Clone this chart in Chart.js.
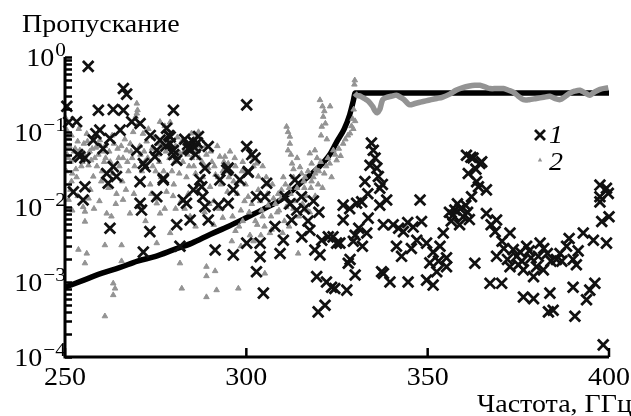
<!DOCTYPE html>
<html>
<head>
<meta charset="utf-8">
<script src="https://cdn.jsdelivr.net/npm/chart.js@4.4.0/dist/chart.umd.min.js"></script>
<style>
	html, body { margin: 0; padding: 0; background: #fff; }
	#wrap { position: relative; width: 631px; height: 416px; }
</style>
</head>
<body>
<div id="wrap"><canvas id="plot" width="631" height="416"></canvas></div>
<script>
// series 1 : crosses (frequency GHz, transmission)
const s1Freq = [
	256.4, 266.1, 267.0, 250.5, 259.2, 263.3, 266.1, 279.9, 253.2, 251.0,
	259.6, 265.2, 270.7, 268.4, 278.0, 262.4, 257.8, 276.2, 279.0, 279.9,
	254.1, 255.5, 269.8, 275.3, 280.8, 263.3, 261.5, 264.2, 261.9, 270.7,
	272.1, 277.1, 255.5, 252.3, 255.0, 270.7, 275.3, 282.6, 285.4, 284.5,
	283.8, 286.0, 285.2, 271.6, 274.8, 277.1, 277.8, 278.6, 273.5, 300.1,
	300.1, 302.4, 300.5, 298.2, 305.6, 302.8, 294.6, 292.7, 289.5, 287.2,
	288.0, 283.5, 286.8, 288.6, 295.0, 300.5, 296.4, 305.1, 295.0, 292.3,
	313.4, 315.2, 310.7, 287.7, 288.6, 289.5, 291.4, 296.4, 303.8, 303.8,
	302.8, 304.7, 309.3, 310.2, 300.1, 307.9, 312.5, 313.9, 315.3, 317.5,
	318.9, 320.3, 320.8, 322.6, 319.4, 322.1, 323.5, 321.7, 319.8, 262.4,
	271.6, 271.1, 273.4, 280.8, 284.5, 281.7, 334.5, 335.0, 334.1, 336.0,
	332.7, 336.4, 336.8, 338.7, 326.7, 330.4, 331.8, 336.8, 347.9, 360.7,
	361.9, 364.4, 361.2, 363.5, 366.2, 364.9, 364.0, 362.1, 397.5, 399.3,
	397.5, 399.8, 397.5, 326.7, 333.6, 323.9, 325.8, 329.5, 333.2, 328.1,
	330.0, 324.4, 327.7, 337.8, 340.5, 343.3, 346.0, 348.3, 341.4, 342.8,
	337.8, 339.6, 344.6, 349.7, 351.5, 349.7, 353.4, 354.3, 350.6, 352.5,
	355.2, 355.2, 357.5, 359.8, 358.2, 360.5, 356.5, 358.8, 361.0, 363.0,
	367.2, 370.4, 366.2, 369.0, 368.6, 372.7, 369.0, 372.7, 376.4, 379.2,
	381.0, 377.3, 381.9, 383.7, 376.4, 379.2, 383.3, 384.6, 390.6, 388.3,
	390.1, 392.9, 390.1, 393.8, 394.7, 396.1, 395.7, 399.3, 398.0, 400.0,
	398.4, 386.5, 385.5, 373.6, 374.5, 380.0, 324.9, 328.6, 337.3, 367.5,
	370.5, 375.5, 378.5, 383.0, 387.0, 391.5, 345.5, 347.0, 312.0, 316.0,
	318.5, 320.0, 317.0, 284.0, 285.8, 283.0, 286.5, 279.0, 280.0, 301.5,
	258.5, 260.5, 253.5, 335.5, 337.5, 333.5, 359.0, 357.0, 361.5, 356.0,
	362.5, 363.3, 342.0, 344.5, 371.0, 376.0, 378.0, 382.0, 380.5, 384.0,
	375.0, 372.0, 389.0, 391.0, 351.5, 353.0, 331.0, 332.0, 330.0, 328.5
];
const s1Trans = [
	0.75, 0.38, 0.32, 0.22, 0.195, 0.2, 0.195, 0.195, 0.137, 0.135,
	0.106, 0.106, 0.13, 0.137, 0.112, 0.082, 0.078, 0.078, 0.086, 0.057,
	0.047, 0.045, 0.057, 0.057, 0.042, 0.0345, 0.028, 0.0255, 0.0207, 0.0218,
	0.0345, 0.024, 0.0186, 0.0159, 0.0124, 0.0112, 0.0137, 0.0124, 0.0169, 0.057,
	0.068, 0.05, 0.075, 0.038, 0.047, 0.023, 0.065, 0.09, 0.09, 0.23,
	0.064, 0.045, 0.029, 0.023, 0.0207, 0.0137, 0.031, 0.023, 0.064, 0.023,
	0.0137, 0.0112, 0.087, 0.033, 0.033, 0.0296, 0.0169, 0.0137, 0.0112, 0.0106,
	0.023, 0.0137, 0.0137, 0.0186, 0.0101, 0.0067, 0.00267, 0.0023, 0.0033, 0.00218,
	0.00137, 0.00071, 0.0024, 0.0036, 0.0033, 0.0055, 0.0067, 0.0091, 0.004, 0.0049,
	0.00267, 0.0023, 0.0036, 0.004, 0.00118, 0.001, 0.00085, 0.00049, 0.0004, 0.0052,
	0.0025, 0.0091, 0.0047, 0.0058, 0.0067, 0.003, 0.071, 0.057, 0.036, 0.033,
	0.0218, 0.0255, 0.0178, 0.0124, 0.0106, 0.0112, 0.0117, 0.0106, 0.0124, 0.049,
	0.046, 0.038, 0.028, 0.0218, 0.0169, 0.04, 0.0186, 0.0137, 0.0196, 0.0178,
	0.0137, 0.0152, 0.0117, 0.0067, 0.0071, 0.004, 0.0033, 0.0035, 0.0045, 0.00178,
	0.00124, 0.00082, 0.00078, 0.0058, 0.0058, 0.0047, 0.0054, 0.0064, 0.003, 0.0022,
	0.0013, 0.001, 0.001, 0.00106, 0.00091, 0.0033, 0.003, 0.0045, 0.0018, 0.00137,
	0.0016, 0.0021, 0.0091, 0.0074, 0.011, 0.0105, 0.0065, 0.0058, 0.0085, 0.00178,
	0.00096, 0.00096, 0.0082, 0.0067, 0.0047, 0.0045, 0.0022, 0.0016, 0.00145, 0.00118,
	0.0033, 0.003, 0.00145, 0.00071, 0.00063, 0.0006, 0.0004, 0.00042, 0.00035, 0.003,
	0.002, 0.0045, 0.00085, 0.00058, 0.00078, 0.00096, 0.0036, 0.0033, 0.0064, 0.0074,
	0.000145, 0.0024, 0.002, 0.0027, 0.0022, 0.0016, 0.0033, 0.002, 0.00137, 0.0058,
	0.0035, 0.0025, 0.0021, 0.0024, 0.0019, 0.0026, 0.0028, 0.0036, 0.011, 0.0095,
	0.012, 0.0085, 0.0065, 0.06, 0.062, 0.08, 0.072, 0.07, 0.05, 0.05,
	0.095, 0.06, 0.05, 0.045, 0.02, 0.015, 0.0095, 0.0078, 0.0068, 0.0085,
	0.045, 0.032, 0.0052, 0.0062, 0.0028, 0.0019, 0.0026, 0.0028, 0.0022, 0.0019,
	0.0017, 0.002, 0.0038, 0.0017, 0.0025, 0.0019, 0.0052, 0.003, 0.0042, 0.0095
];

// series 2 : grey triangles, scattered part
const s2Freq = [
	250.5, 250.8, 251.2, 250.6, 251.5, 252.3, 253.0, 252.0, 254.1, 253.5,
	255.5, 256.5, 257.8, 258.5, 259.6, 260.5, 261.2, 263.2, 264.2, 262.0,
	260.0, 257.8, 255.0, 256.5, 258.0, 255.5, 255.5, 261.5, 264.0, 266.0,
	267.9, 269.0, 267.0, 266.0, 268.0, 269.8, 270.0, 269.5, 270.3, 269.8,
	271.5, 272.5, 274.0, 276.2, 277.5, 279.0, 276.0, 275.0, 273.5, 275.3,
	276.2, 279.0, 278.0, 280.0, 281.7, 282.5, 283.5, 284.0, 284.9, 285.5,
	286.5, 287.0, 288.5, 290.0, 291.0, 292.7, 293.5, 294.1, 295.0, 296.5,
	297.5, 298.5, 299.5, 301.0, 302.0, 302.8, 303.3, 303.3, 300.5, 299.0,
	297.0, 296.0, 298.5, 301.0, 303.0, 304.5, 306.0, 307.5, 309.7, 309.0,
	310.5, 311.1, 311.5, 312.0, 311.5, 312.6, 312.0, 313.0, 314.8, 315.2,
	317.5, 318.9, 318.0, 319.5, 320.3, 321.0, 321.2, 320.8, 321.5, 323.1,
	316.0, 318.0, 320.0, 322.0, 324.0, 324.9, 326.7, 328.6, 329.5, 329.9,
	329.8, 314.3, 305.1, 297.8, 289.0, 289.0, 291.4, 291.8, 289.0, 253.7,
	256.0, 255.5, 261.0, 265.6, 265.6, 263.3, 263.8, 263.3, 261.0, 275.3,
	281.7, 282.2, 284.5, 286.0, 288.5, 291.0, 293.5, 306.5, 313.0, 315.5,
	317.5, 319.0, 321.0, 323.5, 251.0, 252.0, 280.5, 282.0,
	250.3, 250.4, 251.8, 252.8, 253.8, 254.5, 255.2, 256.0, 256.8, 257.2,
	258.8, 259.2, 260.2, 261.0, 262.5, 263.0, 264.5, 265.0, 265.8, 266.5,
	267.5, 268.5, 268.8, 270.8, 271.2, 272.0, 273.0, 273.8, 274.5, 275.5,
	276.8, 277.2, 278.2, 278.8, 279.5, 280.5, 281.0, 281.5, 282.8, 283.2,
	284.2, 285.0, 286.0, 286.8, 287.5, 288.0, 289.0, 289.5, 290.5, 291.5,
	292.0, 293.0, 294.5, 295.5, 296.0, 297.0, 298.0, 299.0, 300.0,
	251.5, 253.5, 257.0, 259.5, 262.8, 266.8, 270.5, 272.2, 274.8, 277.5,
	279.8, 283.0, 286.5, 289.8, 292.5, 294.8, 296.2, 298.0,
	300.8, 301.5, 302.5, 303.8, 304.2, 305.0, 305.8, 306.8, 307.2, 308.0,
	308.5, 309.5, 310.0, 310.8, 311.0, 312.2, 313.5, 314.0, 314.5, 315.8,
	316.5, 317.0, 317.8, 318.5, 319.2, 319.8, 320.5, 321.5, 322.5, 323.0,
	324.5, 325.5, 326.0, 327.3, 328.0, 329.0, 330.0, 329.3, 329.6, 307.0,
	304.0, 302.0, 311.8, 316.8, 313.0, 314.0, 312.3, 320.6, 321.8, 322.2,
	250.2, 250.9, 251.8, 252.5, 253.2, 254.8, 256.2, 257.5, 258.2, 259.8,
	260.8, 262.2, 263.5, 264.8, 265.5, 267.2, 268.2, 269.2, 270.6, 271.8,
	272.8, 274.2, 275.8, 276.5, 277.8, 279.2, 280.2, 281.2, 282.2, 283.8,
	285.5, 286.2, 287.8, 288.8, 290.2, 291.2, 292.2, 293.8, 295.2, 296.8,
	298.8, 299.8, 304.5, 305.5, 306.2, 308.8, 310.2, 311.8, 316.2, 319.0
];
const s2Trans = [
	0.106, 0.085, 0.065, 0.05, 0.04, 0.042, 0.032, 0.028, 0.057, 0.075,
	0.048, 0.036, 0.078, 0.062, 0.078, 0.055, 0.045, 0.028, 0.015, 0.018,
	0.022, 0.0255, 0.01, 0.013, 0.0095, 0.0087, 0.0064, 0.0082, 0.011, 0.0125,
	0.0082, 0.015, 0.057, 0.045, 0.07, 0.24, 0.196, 0.16, 0.13, 0.177,
	0.095, 0.075, 0.06, 0.137, 0.12, 0.135, 0.04, 0.03, 0.02, 0.0112,
	0.0082, 0.0045, 0.016, 0.02, 0.052, 0.04, 0.025, 0.015, 0.096, 0.08,
	0.065, 0.045, 0.035, 0.0186, 0.012, 0.047, 0.03, 0.047, 0.038, 0.022,
	0.015, 0.009, 0.012, 0.047, 0.035, 0.038, 0.0255, 0.0169, 0.0137, 0.0065,
	0.0048, 0.0035, 0.003, 0.0042, 0.0058, 0.0075, 0.0105, 0.013, 0.0169, 0.009,
	0.0065, 0.118, 0.1, 0.087, 0.057, 0.038, 0.07, 0.025, 0.034, 0.028,
	0.052, 0.057, 0.038, 0.045, 0.267, 0.22, 0.16, 0.118, 0.19, 0.22,
	0.018, 0.022, 0.03, 0.035, 0.057, 0.042, 0.07, 0.096, 0.11, 0.49,
	0.43, 0.0024, 0.0013, 0.00082, 0.0016, 0.0012, 0.0014, 0.00078, 0.00063, 0.0027,
	0.0024, 0.00178, 0.0031, 0.0031, 0.0019, 0.00096, 0.00082, 0.00067, 0.00035, 0.0033,
	0.00178, 0.00082, 0.0075, 0.0055, 0.0085, 0.0058, 0.0072, 0.0045, 0.0095, 0.011,
	0.0085, 0.014, 0.018, 0.025, 0.0125, 0.009, 0.0095, 0.012,
	0.15, 0.03, 0.022, 0.06, 0.11, 0.035, 0.07, 0.095, 0.055, 0.042,
	0.035, 0.05, 0.03, 0.065, 0.04, 0.09, 0.06, 0.035, 0.022, 0.08,
	0.03, 0.045, 0.1, 0.05, 0.03, 0.04, 0.11, 0.015, 0.085, 0.05,
	0.065, 0.03, 0.1, 0.045, 0.03, 0.065, 0.085, 0.028, 0.055, 0.07,
	0.035, 0.045, 0.028, 0.1, 0.06, 0.025, 0.05, 0.033, 0.04, 0.027,
	0.065, 0.02, 0.03, 0.055, 0.028, 0.035, 0.022, 0.04, 0.03,
	0.017, 0.014, 0.017, 0.012, 0.0075, 0.017, 0.01, 0.0065, 0.013, 0.0095,
	0.014, 0.0095, 0.0165, 0.011, 0.0095, 0.016, 0.0075, 0.0055,
	0.0085, 0.011, 0.0065, 0.012, 0.009, 0.0055, 0.015, 0.0075, 0.02, 0.011,
	0.0085, 0.013, 0.0045, 0.02, 0.01, 0.015, 0.012, 0.018, 0.0075, 0.022,
	0.014, 0.03, 0.018, 0.025, 0.032, 0.02, 0.04, 0.028, 0.045, 0.038,
	0.05, 0.06, 0.048, 0.08, 0.09, 0.12, 0.14, 0.15, 0.2, 0.005,
	0.0042, 0.0035, 0.0055, 0.009, 0.032, 0.045, 0.05, 0.09, 0.13, 0.08,
	0.07, 0.045, 0.09, 0.055, 0.025, 0.04, 0.075, 0.06, 0.045, 0.065,
	0.04, 0.055, 0.07, 0.045, 0.065, 0.04, 0.055, 0.035, 0.065, 0.055,
	0.045, 0.035, 0.07, 0.025, 0.055, 0.06, 0.04, 0.045, 0.075, 0.05,
	0.035, 0.055, 0.04, 0.065, 0.055, 0.035, 0.025, 0.04, 0.025, 0.045,
	0.03, 0.02, 0.035, 0.025, 0.02, 0.015, 0.025, 0.018, 0.025, 0.028
];

// series 2 above the cut-off: points so dense they form a band
const bandFreq = [
	329.9, 330.4, 331.5, 332.5, 333.6, 334.8, 335.5, 336.0, 336.8, 337.6,
	338.7, 340.0, 341.4, 342.5, 343.5, 344.5, 345.1, 346.5, 348.0, 349.5,
	351.0, 352.5, 354.0, 356.1, 357.8, 359.7, 361.5, 363.0, 364.4, 365.8,
	367.2, 369.0, 370.9, 372.3, 373.6, 375.0, 376.4, 378.0, 380.0, 382.0,
	383.7, 385.0, 386.5, 388.0, 389.2, 390.5, 392.0, 393.5, 394.7, 396.0,
	397.5, 399.8
];
const bandTrans = [
	0.33, 0.31, 0.3, 0.28, 0.26, 0.22, 0.19, 0.18, 0.2, 0.27,
	0.29, 0.3, 0.31, 0.29, 0.27, 0.24, 0.23, 0.24, 0.25, 0.26,
	0.27, 0.28, 0.29, 0.32, 0.36, 0.39, 0.41, 0.42, 0.42, 0.4,
	0.38, 0.38, 0.38, 0.36, 0.34, 0.3, 0.27, 0.27, 0.28, 0.29,
	0.3, 0.28, 0.27, 0.3, 0.33, 0.35, 0.36, 0.33, 0.31, 0.34,
	0.37, 0.39
];

// calculated curve
const curveFreq = [250, 255, 260, 265, 270, 275, 280, 285, 290, 295, 300, 305, 310, 315, 320, 323, 325, 327, 328.5, 329.5, 330, 400];
const curveTrans = [0.00085, 0.00105, 0.0013, 0.00155, 0.0019, 0.0022, 0.0027, 0.0033, 0.0043, 0.0055, 0.0072, 0.0095, 0.013, 0.021, 0.034, 0.05, 0.075, 0.11, 0.17, 0.26, 0.33, 0.33];

const xTicks = [250, 300, 350, 400];
const yDecades = [0, -1, -2, -3, -4];
const legendLabels = ['1', '2'];

const GREY = '#939393';
const SERIF = '"Liberation Serif", "DejaVu Serif", serif';
const STRETCH = 1.12;   // the scan is a bit wider than tall

function pairs(xs, ys){
	return xs.map((x, i) => ({x: x, y: ys[i]}))
}

// text drawn slightly stretched to match the scan
function wideText(ctx, txt, x, y, align){
	const w = ctx.measureText(txt).width * STRETCH
	let x0 = x
	if (align == 'center') x0 = x - w / 2
	else if (align == 'right') x0 = x - w
	ctx.save()
	ctx.translate(x0, y)
	ctx.scale(STRETCH, 1)
	ctx.textAlign = 'left'
	ctx.fillText(txt, 0, 0)
	ctx.restore()
	return w
}

// axes with inward ticks, labels with superscripts, legend
const axesPlugin = {
	id: 'axesPlugin',
	afterDraw(chart){
		const ctx = chart.ctx
		const xs = chart.scales.x
		const ys = chart.scales.y
		const a = chart.chartArea
		ctx.save()
		ctx.strokeStyle = '#000'
		ctx.fillStyle = '#000'
		ctx.lineCap = 'butt'
		ctx.textBaseline = 'alphabetic'

		// y minor/major ticks
		ctx.lineWidth = 2.5
		for (let d = -4; d <= 0; d++){
			for (let k = 1; k <= 9; k++){
				const v = k * Math.pow(10, d)
				if (v > 1) break
				const py = Math.round(ys.getPixelForValue(v)) + 0.5
				ctx.beginPath()
				ctx.moveTo(a.left, py)
				ctx.lineTo(a.left + 7, py)
				ctx.stroke()
			}
		}
		// x ticks
		xTicks.forEach(t => {
			const px = xs.getPixelForValue(t)
			ctx.beginPath()
			ctx.moveTo(px, a.bottom)
			ctx.lineTo(px, a.bottom - 9)
			ctx.stroke()
		})
		// axis lines
		ctx.lineWidth = 3
		ctx.beginPath()
		ctx.moveTo(a.left, a.top)
		ctx.lineTo(a.left, a.bottom)
		ctx.lineTo(a.right, a.bottom)
		ctx.stroke()

		// x labels
		ctx.font = '25px ' + SERIF
		xTicks.forEach(t => {
			wideText(ctx, String(t), xs.getPixelForValue(t), a.bottom + 28, 'center')
		})

		// y labels 10^n
		yDecades.forEach(d => {
			const py = ys.getPixelForValue(Math.pow(10, d))
			const ex = d === 0 ? '0' : '\u2212' + (-d)
			ctx.font = '19px ' + SERIF
			const we = wideText(ctx, ex, 66, py - 1, 'right')
			ctx.font = '25px ' + SERIF
			wideText(ctx, '10', 66 - we - 1, py + 9, 'right')
		})

		// axis titles
		ctx.font = '25px ' + SERIF
		wideText(ctx, 'Пропускание', 22, 32, 'left')
		wideText(ctx, 'Частота, ГГц', 477, 412, 'left')

		// legend
		const lx = a.left + 475
		const ly1 = a.top + 78
		const ly2 = a.top + 103
		ctx.lineWidth = 2.8
		ctx.strokeStyle = '#111'
		ctx.beginPath()
		ctx.moveTo(lx - 5, ly1 - 5); ctx.lineTo(lx + 5, ly1 + 5)
		ctx.moveTo(lx + 5, ly1 - 5); ctx.lineTo(lx - 5, ly1 + 5)
		ctx.stroke()
		ctx.fillStyle = GREY
		ctx.beginPath()
		ctx.moveTo(lx, ly2 - 2.5); ctx.lineTo(lx + 2.2, ly2 + 1.5); ctx.lineTo(lx - 2.2, ly2 + 1.5)
		ctx.closePath()
		ctx.fill()
		ctx.fillStyle = '#000'
		ctx.font = 'italic 25px ' + SERIF
		wideText(ctx, legendLabels[0], lx + 9, ly1 + 8, 'left')
		wideText(ctx, legendLabels[1], lx + 9, ly2 + 10, 'left')
		ctx.restore()
	}
}

new Chart(document.getElementById('plot'), {
	type: 'scatter',
	data: {
		datasets: [{
			label: legendLabels[0],
			data: pairs(s1Freq, s1Trans),
			pointStyle: 'crossRot',
			pointRadius: 7.5,
			borderWidth: 2.8,
			borderColor: '#111',
			backgroundColor: '#111',
			clip: 8,
			order: 1
		}, {
			label: legendLabels[1],
			data: pairs(s2Freq, s2Trans),
			pointStyle: 'triangle',
			pointRadius: 3.2,
			borderWidth: 1,
			borderColor: GREY,
			backgroundColor: GREY,
			order: 2
		}, {
			label: 'band',
			type: 'line',
			data: pairs(bandFreq, bandTrans),
			showLine: true,
			borderColor: GREY,
			borderWidth: 5.5,
			pointRadius: 0,
			tension: 0.3,
			clip: 4,
			order: 3
		}, {
			label: 'calc',
			type: 'line',
			data: pairs(curveFreq, curveTrans),
			showLine: true,
			borderColor: '#000',
			borderWidth: 5.5,
			pointRadius: 0,
			cubicInterpolationMode: 'monotone',
			clip: 4,
			order: 4
		}]
	},
	options: {
		responsive: false,
		animation: false,
		devicePixelRatio: 1,
		layout: { padding: { left: 65, right: 22, top: 57, bottom: 59 } },
		plugins: {
			legend: { display: false },
			tooltip: { enabled: false }
		},
		scales: {
			x: {
				type: 'linear', min: 250, max: 400,
				ticks: { display: false }, grid: { display: false }, border: { display: false },
				afterFit: s => { s.height = 0 }
			},
			y: {
				type: 'logarithmic', min: 1e-4, max: 1,
				ticks: { display: false }, grid: { display: false }, border: { display: false },
				afterFit: s => { s.width = 0 }
			}
		}
	},
	plugins: [axesPlugin]
});
</script>
</body>
</html>
